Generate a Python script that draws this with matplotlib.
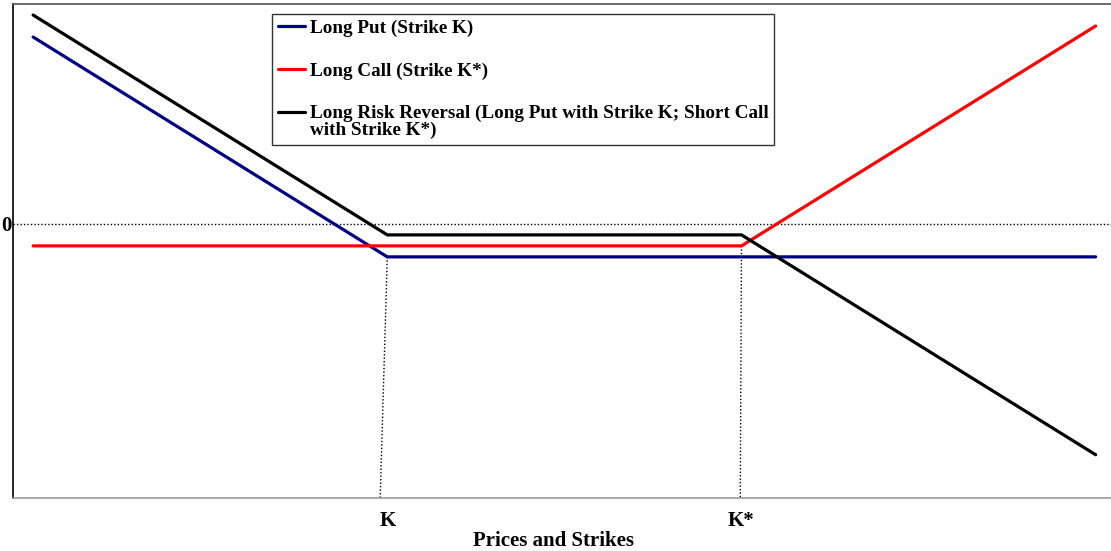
import numpy as np
import matplotlib.pyplot as plt

plt.rcParams['font.family'] = ['Liberation Serif', 'DejaVu Serif']
plt.rcParams['font.weight'] = 'bold'

# underlying prices and strikes
prices = np.array([70, 100, 130, 160])
K = 100
K_star = 130
put_premium = 4.5
call_premium = 3.0
# where the dotted strike guides meet the price axis
guide_foot = [99.4, 129.9]

long_put = np.maximum(K - prices, 0) - put_premium
long_call = np.maximum(prices - K_star, 0) - call_premium
risk_reversal = long_put - long_call

fig = plt.figure(figsize=(11.11, 5.51), dpi=100)
ax = fig.add_axes([0.0113, 0.0962, 0.9887, 0.8965])

ax.plot(prices, long_put, color='#000080', lw=2.3, solid_capstyle='round',
        label='Long Put (Strike K)')
ax.plot(prices, long_call, color='#ff0000', lw=2.3, solid_capstyle='round',
        label='Long Call (Strike K*)')
ax.plot(prices, risk_reversal, color='black', lw=2.3, solid_capstyle='round',
        label='Long Risk Reversal (Long Put with Strike K; Short Call\nwith Strike K*)')

ax.set_xlim(68.26, 161.3)
ax.set_ylim(-37.4, 30.0)

# zero line and strike guides
ax.axhline(0, color='black', lw=1, ls=(0, (1, 1.5)), zorder=1)
ax.plot([K, guide_foot[0]], [-put_premium, -37.4], color='black', lw=1,
        ls=(0, (1, 1.5)), zorder=1)
ax.plot([K_star, guide_foot[1]], [-call_premium, -37.4], color='black', lw=1,
        ls=(0, (1, 1.5)), zorder=1)

ax.set_xticks([K, K_star])
ax.set_xticklabels(['K', 'K*'])
ax.set_yticks([0])
ax.set_yticklabels(['0'])
ax.tick_params(length=0, labelsize=15)
ax.tick_params(axis='x', pad=9.2)
ax.tick_params(axis='y', pad=1.0)
ax.set_xlabel('Prices and Strikes', fontsize=15, fontweight='bold')
ax.xaxis.set_label_coords(0.4925, -0.067)

ax.spines['right'].set_visible(False)
ax.spines['top'].set_color('#555555')
ax.spines['bottom'].set_color('#999999')
ax.spines['left'].set_color('black')
for s in ax.spines.values():
    s.set_linewidth(1.2)

leg = ax.legend(loc='upper left', bbox_to_anchor=(0.2364, 0.98), fontsize=13.8,
                fancybox=False, edgecolor='#333333', framealpha=1,
                handlelength=1.4, handletextpad=0.25, labelspacing=1.31,
                borderpad=0.3, borderaxespad=0)
leg.get_frame().set_linewidth(1.0)
for t in leg.get_texts():
    t.set_fontweight('bold')
    t.set_linespacing(0.95)

# put the risk reversal swatch on the first line of its label
rr_handle = leg.legend_handles[2]
rr_handle.set_ydata(np.asarray(rr_handle.get_ydata()) + 7.0)

fig.savefig('out.png', dpi=100)
